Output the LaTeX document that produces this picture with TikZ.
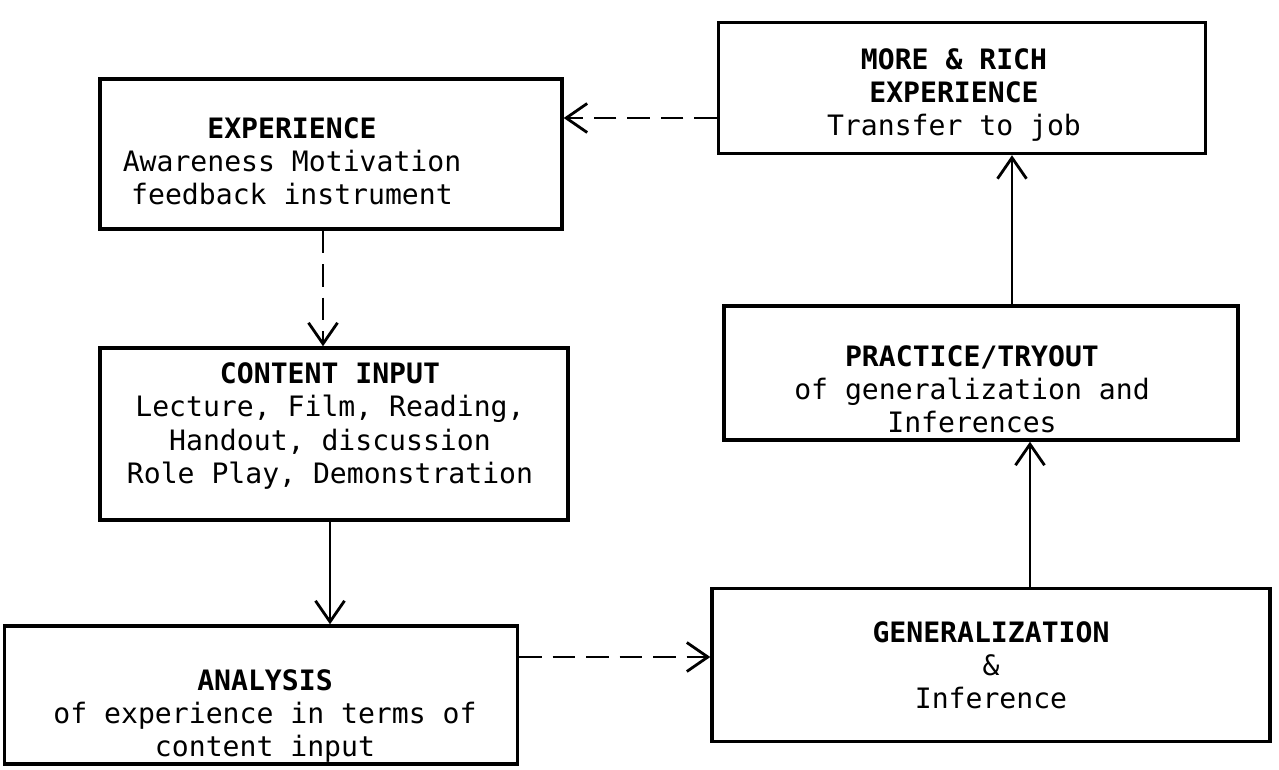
\documentclass[tikz,border=0pt]{standalone}
\usepackage{fontspec}
\setmonofont{DejaVu Sans Mono}
\usepackage{tikz}
\usetikzlibrary{positioning,arrows.meta,calc}

\begin{document}
\begin{tikzpicture}[
    x=0.02cm, y=-0.02cm,
    box/.style={draw, line width=2pt, inner sep=0pt},
    boxtext/.style={align=center, inner sep=0pt, font=\ttfamily\fontsize{16}{18.8}\selectfont},
    arrow/.style={-{Straight Barb[length=0.42cm, width=0.58cm, line width=1.6pt]}, line width=1.6pt},
    dasharrow/.style={arrow, dash pattern=on 0.45cm off 0.22cm}
]
\useasboundingbox (0,0) rectangle (1279,770);

% Left column
\node[box, minimum width=9.24cm, minimum height=3.0cm] (exp) at (331,154) {};
\node[boxtext] (expT) at (292,161)
    {\textbf{EXPERIENCE}\\Awareness Motivation\\feedback instrument};

\node[box, minimum width=9.36cm, minimum height=3.44cm] (cont) at (334,434) {};
\node[boxtext] (contT) at (330,426)
    {\textbf{CONTENT INPUT}\\Lecture, Film, Reading,\\Handout, discussion\\Role Play, Demonstration};

\node[box, minimum width=10.26cm, minimum height=2.76cm] (anal) at (261,695) {};
\node[boxtext] (analT) at (265,716)
    {\textbf{ANALYSIS}\\of experience in terms of\\content input};

% Right column
\node[box, minimum width=9.74cm, minimum height=2.62cm] (rich) at (962,88) {};
\node[boxtext] (richT) at (954,95)
    {\textbf{MORE \& RICH}\\\textbf{EXPERIENCE}\\Transfer to job};

\node[box, minimum width=10.28cm, minimum height=2.68cm] (prac) at (981,373) {};
\node[boxtext] (pracT) at (972,389)
    {\textbf{PRACTICE/TRYOUT}\\of generalization and\\Inferences};

\node[box, minimum width=11.16cm, minimum height=3.06cm] (gen) at (991,665) {};
\node[boxtext] (genT) at (991,665)
    {\textbf{GENERALIZATION}\\\&\\Inference};

% Arrows
\draw[dasharrow] ([yshift=-0.6cm]rich.west) -- ([yshift=-0.6cm]rich.west -| exp.east);
\draw[dasharrow] ([xshift=-0.16cm]exp.south) -- ([xshift=-0.16cm]exp.south |- cont.north);
\draw[arrow] ([xshift=-0.08cm]cont.south) -- ([xshift=-0.08cm]cont.south |- anal.north);
\draw[dasharrow] ([yshift=0.76cm]anal.east) -- ([yshift=0.76cm]anal.east -| gen.west);
\draw[arrow] ([xshift=0.78cm]gen.north) -- ([xshift=0.78cm]gen.north |- prac.south);
\draw[arrow] ([xshift=0.62cm]prac.north) -- ([xshift=0.62cm]prac.north |- rich.south);

\end{tikzpicture}
\end{document}
